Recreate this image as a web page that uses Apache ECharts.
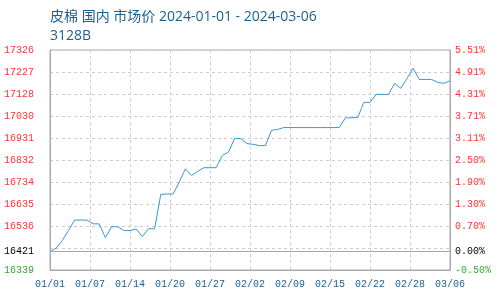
<!DOCTYPE html>
<html>
<head>
<meta charset="utf-8">
<script src="https://cdn.jsdelivr.net/npm/echarts@6/dist/echarts.min.js"></script>
<style>html,body{margin:0;padding:0;background:#fff;}#c{width:500px;height:300px;}</style>
</head>
<body>
<div id="c"></div>
<script>
var titleText = '皮棉 国内 市场价 2024-01-01 - 2024-03-06';
var subTitle = '3128B';
var startDate = '2024-01-01';
var endDate = '2024-03-06';
var basePrice = 16421;
var yMin = 16339, yMax = 17326;
var leftLabels = ['16339', '', '16536', '16635', '16734', '16832', '16931', '17030', '17128', '17227', '17326'];
var rightLabels = ['-0.50%', '', '0.70%', '1.30%', '1.90%', '2.50%', '3.11%', '3.71%', '4.31%', '4.91%', '5.51%'];
var xLabels = ['01/01', '01/07', '01/14', '01/20', '01/27', '02/02', '02/09', '02/15', '02/22', '02/28', '03/06'];
var dates = [
 '2024-01-01','2024-01-02','2024-01-03','2024-01-04','2024-01-05','2024-01-06','2024-01-07','2024-01-08','2024-01-09','2024-01-10',
 '2024-01-11','2024-01-12','2024-01-13','2024-01-14','2024-01-15','2024-01-16','2024-01-17','2024-01-18','2024-01-19','2024-01-20',
 '2024-01-21','2024-01-22','2024-01-23','2024-01-24','2024-01-25','2024-01-26','2024-01-27','2024-01-28','2024-01-29','2024-01-30',
 '2024-01-31','2024-02-01','2024-02-02','2024-02-03','2024-02-04','2024-02-05','2024-02-06','2024-02-07','2024-02-08','2024-02-09',
 '2024-02-10','2024-02-11','2024-02-12','2024-02-13','2024-02-14','2024-02-15','2024-02-16','2024-02-17','2024-02-18','2024-02-19',
 '2024-02-20','2024-02-21','2024-02-22','2024-02-23','2024-02-24','2024-02-25','2024-02-26','2024-02-27','2024-02-28','2024-02-29',
 '2024-03-01','2024-03-02','2024-03-03','2024-03-04','2024-03-05','2024-03-06'
];
var prices = [
 16421,16437,16471,16516,16563,16563,16563,16546,16546,16484,
 16533,16533,16516,16516,16523,16489,16524,16524,16678,16680,
 16680,16733,16793,16763,16781,16798,16798,16798,16853,16868,
 16929,16929,16906,16903,16897,16897,16966,16970,16978,16978,
 16978,16978,16978,16978,16978,16978,16978,16978,17021,17022,
 17023,17091,17091,17127,17127,17127,17176,17154,17198,17244,
 17194,17194,17194,17181,17176,17188
];

var DAY = 86400000;
var t0 = Date.parse(startDate);
var span = (Date.parse(endDate) - t0) / DAY;
var seriesData = dates.map(function (d, i) { return [(Date.parse(d) - t0) / DAY, prices[i]]; });
var yInterval = (yMax - yMin) / (leftLabels.length - 1);
var xInterval = span / (xLabels.length - 1);
function yIdx(v) { return Math.round((v - yMin) / yInterval); }
function labelColor(lbl) {
  if (lbl.charAt(0) === '-' || lbl === leftLabels[0]) return '#33aa33';
  return '#ff3333';
}
var mono = 'Liberation Mono';
var chart = echarts.init(document.getElementById('c'), null, {renderer: 'canvas'});
chart.setOption({
  animation: false,
  title: {
    text: titleText + '\n' + subTitle,
    left: 45, top: 3,
    textStyle: {color: '#1a5f91', fontSize: 14, fontWeight: 'normal', fontFamily: 'Open Sans, Noto Sans CJK SC', lineHeight: 19}
  },
  grid: {left: 50, right: 50, top: 50, bottom: 30, show: true, borderColor: '#aaa', borderWidth: 1},
  xAxis: {
    type: 'value', min: 0, max: span, interval: xInterval,
    axisLine: {show: true, lineStyle: {color: '#aaa'}},
    axisTick: {show: false},
    splitLine: {show: true, lineStyle: {color: '#ccc', type: [3, 3]}},
    axisLabel: {
      color: '#1a5f91', fontFamily: mono, fontSize: 10, margin: 9,
      formatter: function (v) { return xLabels[Math.round(v / xInterval)] || ''; }
    }
  },
  yAxis: [{
    type: 'value', min: yMin, max: yMax, interval: yInterval, position: 'left',
    axisLine: {show: true, lineStyle: {color: '#aaa'}},
    axisTick: {show: false},
    splitLine: {show: true, lineStyle: {color: '#ccc', type: [3, 3]}},
    axisLabel: {
      fontFamily: mono, fontSize: 10, margin: 16,
      formatter: function (v) { return leftLabels[yIdx(v)] || ''; },
      color: function (v) { return labelColor(leftLabels[yIdx(v)] || ''); }
    }
  }, {
    type: 'value', min: yMin, max: yMax, interval: yInterval, position: 'right',
    axisLine: {show: true, lineStyle: {color: '#aaa'}},
    axisTick: {show: false},
    splitLine: {show: false},
    axisLabel: {
      fontFamily: mono, fontSize: 10, margin: 5,
      formatter: function (v) { return rightLabels[yIdx(v)] || ''; },
      color: function (v) { return labelColor(rightLabels[yIdx(v)] || ''); }
    }
  }],
  series: [{
    type: 'line', data: seriesData, showSymbol: false, symbol: 'none',
    lineStyle: {color: '#3897d6', width: 1},
    markLine: {
      silent: true, symbol: 'none',
      lineStyle: {color: '#aaa', type: 'solid', width: 1},
      data: [
        {yAxis: basePrice, label: {show: true, position: 'start', distance: 16, formatter: String(basePrice), color: '#000', fontFamily: mono, fontSize: 10}},
        {yAxis: basePrice, label: {show: true, position: 'end', distance: 5, formatter: '0.00%', color: '#000', fontFamily: mono, fontSize: 10}}
      ]
    }
  }]
});
</script>
</body>
</html>
